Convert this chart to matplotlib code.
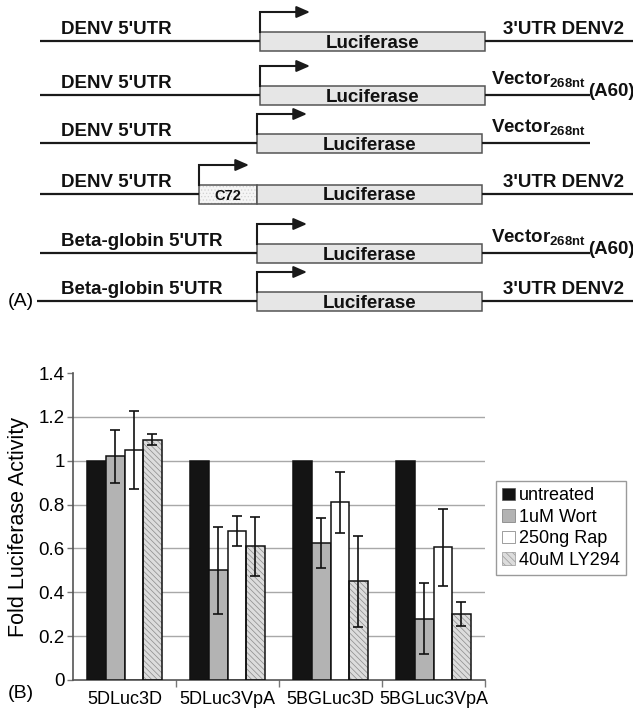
import numpy as np
import matplotlib
matplotlib.use("Agg")
import matplotlib.pyplot as plt
from matplotlib.patches import Rectangle, Patch

plt.rcParams['font.family'] = ['Liberation Sans', 'DejaVu Sans']
plt.rcParams['mathtext.fontset'] = 'custom'
plt.rcParams['mathtext.bf'] = 'Liberation Sans:bold'
plt.rcParams['mathtext.rm'] = 'Liberation Sans'
plt.rcParams['hatch.linewidth'] = 0.5

# ---- panel A: constructs ----
left_labels = ["DENV 5'UTR", "DENV 5'UTR", "DENV 5'UTR", "DENV 5'UTR",
               "Beta-globin 5'UTR", "Beta-globin 5'UTR"]
right_labels = ["3'UTR DENV2", "vector_a60", "vector", "3'UTR DENV2",
                "vector_a60", "3'UTR DENV2"]
has_c72 = [False, False, False, True, False, False]

# ---- panel B: luciferase data ----
constructs = ["5DLuc3D", "5DLuc3VpA", "5BGLuc3D", "5BGLuc3VpA"]
treatments = ["untreated", "1uM Wort", "250ng Rap", "40uM LY294"]
untreated = [1.0, 1.0, 1.0, 1.0]
wort = [1.02, 0.50, 0.625, 0.28]
rap = [1.05, 0.68, 0.81, 0.605]
ly294 = [1.095, 0.61, 0.45, 0.30]
err_untreated = [0, 0, 0, 0]
err_wort = [0.12, 0.20, 0.113, 0.163]
err_rap = [0.178, 0.07, 0.14, 0.175]
err_ly294 = [0.025, 0.135, 0.207, 0.055]

W, H = 633, 712
fig = plt.figure(figsize=(W / 100, H / 100), dpi=100)

# drawing layer in pixel units
ax0 = fig.add_axes([0, 0, 1, 1])
ax0.set_xlim(0, W)
ax0.set_ylim(H, 0)
ax0.axis('off')

row_y = [41, 95, 143, 194, 253, 301]
line_col = '#1a1a1a'
for i, (lab, rlab, c72) in enumerate(zip(left_labels, right_labels, has_c72)):
    y = row_y[i]
    x_box0 = 260 if i < 2 else 257
    x_box1 = 485 if i < 2 else 482
    x_start = 37 if i == 5 else 40
    x_end = 633 if rlab.startswith("3'") else 590
    x_prom = 199 if c72 else x_box0
    # backbone
    ax0.plot([x_start, x_prom], [y, y], color=line_col, lw=1.6, solid_capstyle='butt')
    ax0.plot([x_box1, x_end], [y, y], color=line_col, lw=1.6, solid_capstyle='butt')
    # boxes
    if c72:
        ax0.add_patch(Rectangle((199, y - 9), x_box0 - 199, 19, facecolor='#f5f5f5',
                                edgecolor='#d2d2d2', hatch='.....', lw=0))
        ax0.add_patch(Rectangle((199, y - 9), x_box0 - 199, 19, fill=False,
                                edgecolor='#555555', lw=1.1))
        ax0.text((199 + x_box0) / 2, y + 1.5, "C72", ha='center', va='center',
                 fontsize=10.5, fontweight='bold', color='#111111')
    ax0.add_patch(Rectangle((x_box0, y - 9), x_box1 - x_box0, 19, facecolor='#e6e6e6',
                            edgecolor='#555555', lw=1.1))
    ax0.text((x_box0 + x_box1) / 2, y + 2, "Luciferase", ha='center', va='center',
             fontsize=13.5, fontweight='bold', color='#111111')
    # promoter arrow
    ax0.plot([x_prom, x_prom, x_prom + 38], [y - 9, y - 29, y - 29], color=line_col,
             lw=1.5, solid_joinstyle='miter')
    ax0.annotate('', xy=(x_prom + 50, y - 29), xytext=(x_prom + 36, y - 29),
                 arrowprops=dict(arrowstyle='-|>,head_length=0.8,head_width=0.35',
                                 color=line_col, lw=1.5, shrinkA=0, shrinkB=0))
    # labels
    ax0.text(61, y - 3, lab, ha='left', va='bottom', fontsize=13.5, fontweight='bold',
             color='#111111')
    if rlab.startswith("3'"):
        ax0.text(503, y - 3, rlab, ha='left', va='bottom', fontsize=13.5,
                 fontweight='bold', color='#111111')
    else:
        ax0.text(491, y - 10, r"$\mathbf{Vector}_{\mathbf{268nt}}$", ha='left',
                 va='baseline', fontsize=13.5, color='#111111')
        if rlab == "vector_a60":
            ax0.text(588, y + 1, "(A60)", ha='left', va='baseline', fontsize=13.5,
                     fontweight='bold', color='#111111')

ax0.text(8, 301, "(A)", ha='left', va='center', fontsize=14)
ax0.text(8, 693, "(B)", ha='left', va='center', fontsize=14)

# ---- bar chart ----
ax = fig.add_axes([73 / W, 1 - 680 / H, (485 - 73) / W, (680 - 373) / H])
x = np.arange(len(constructs))
bw = 0.18
series = [untreated, wort, rap, ly294]
errs = [err_untreated, err_wort, err_rap, err_ly294]
faces = ['#141414', '#b3b3b3', 'white', '#dcdcdc']
for k, (vals, e, fc) in enumerate(zip(series, errs, faces)):
    pos = x + (k - 1.5) * bw
    if k == 3:
        ax.bar(pos, vals, bw, color=fc, edgecolor='#8a8a8a', hatch='\\\\\\\\\\\\', lw=0,
               zorder=2)
        ax.bar(pos, vals, bw, fill=False, edgecolor='#111111', lw=1.1, zorder=3)
    else:
        ax.bar(pos, vals, bw, color=fc, edgecolor='#111111', lw=1.1, zorder=3)
    if k > 0:
        ax.errorbar(pos, vals, yerr=e, fmt='none', ecolor='#111111', elinewidth=1.2,
                    capsize=3.6, capthick=1.2, zorder=4)

ax.set_xlim(-0.5, 3.5)
ax.set_ylim(0, 1.4)
ax.set_yticks(np.arange(0, 1.41, 0.2))
ax.set_yticklabels(['0', '0.2', '0.4', '0.6', '0.8', '1', '1.2', '1.4'])
for yv in np.arange(0.2, 1.21, 0.2):
    ax.axhline(yv, color='#a8a8a8', lw=1.0, zorder=1)
ax.set_xticks([0.5, 1.5, 2.5, 3.5])
ax.set_xticklabels([])
ax.set_xticks(x, minor=True)
ax.set_xticklabels(constructs, minor=True)
ax.tick_params(axis='x', which='major', length=5, direction='out', width=1, color='#777777')
ax.tick_params(axis='x', which='minor', length=0, pad=8, labelsize=13)
ax.tick_params(axis='y', length=4, width=1, pad=2, labelsize=13.5, color='#777777')
for s in ['top', 'right']:
    ax.spines[s].set_visible(False)
for s in ['left', 'bottom']:
    ax.spines[s].set_color('#555555')
    ax.spines[s].set_linewidth(1.2)

fig.text(19 / W, 1 - 527 / H, "Fold Luciferase Activity", rotation=90, ha='center',
         va='center', fontsize=15.5)

handles = [Patch(facecolor=faces[0], edgecolor='#555555', lw=0.5),
           Patch(facecolor=faces[1], edgecolor='#777777', lw=0.5),
           Patch(facecolor='white', edgecolor='#777777', lw=0.5),
           Patch(facecolor=faces[3], edgecolor='#999999', hatch='\\\\\\\\\\', lw=0.5)]
leg = fig.legend(handles, treatments, loc='upper left',
                 bbox_to_anchor=(496 / W, 1 - 481 / H), fontsize=13,
                 handlelength=0.7, handleheight=0.7, handletextpad=0.2,
                 labelspacing=0.25, borderpad=0.35, borderaxespad=0,
                 fancybox=False, framealpha=1)
leg.get_frame().set_edgecolor('#9a9a9a')
leg.get_frame().set_linewidth(1.0)

fig.savefig("out.png", dpi=100)
